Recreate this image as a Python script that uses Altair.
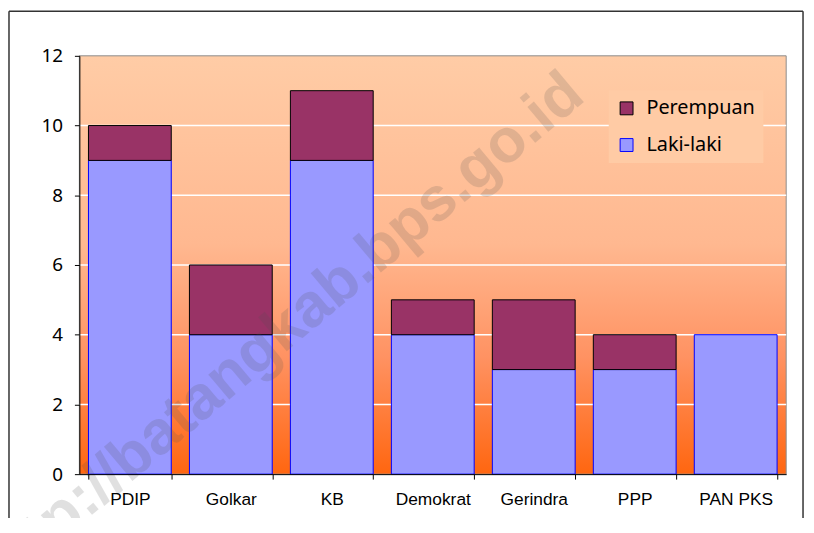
import altair as alt
import pandas as pd

parties = ["PDIP", "Golkar", "KB", "Demokrat", "Gerindra", "PPP", "PAN PKS"]
laki = [9, 4, 9, 4, 3, 3, 4]
perempuan = [1, 2, 2, 1, 2, 1, 0]
series = ["Perempuan", "Laki-laki"]
fill_colors = ["#993366", "#9999FF"]
stroke_colors = ["#000000", "#0000FF"]
y_ticks = [0, 2, 4, 6, 8, 10, 12]
grid_vals = [2, 4, 6, 8, 10]
watermark = ["http://batangkab.bps.go.id"]

W, H = 713, 422

rows = []
for p, l, f in zip(parties, laki, perempuan):
    rows.append({"party": p, "series": "Laki-laki", "value": l, "ord": 0})
    rows.append({"party": p, "series": "Perempuan", "value": f, "ord": 1})
df = pd.DataFrame(rows)

yscale = alt.Scale(domain=[0, 12], nice=False, zero=True)
yaxis = alt.Axis(
    values=y_ticks, title=None, labelFont="Noto Sans", labelFontSize=19,
    labelColor="black", tickSize=5, tickColor="black", domainColor="black",
    labelPadding=12, grid=False, zindex=1,
)

bg = alt.Chart(pd.DataFrame({"a": [0]})).mark_rect(
    fill=alt.LinearGradient(
        gradient="linear",
        stops=[
            alt.GradientStop(color="#FFCCA6", offset=0),
            alt.GradientStop(color="#FFB890", offset=0.45),
            alt.GradientStop(color="#FF9262", offset=0.72),
            alt.GradientStop(color="#FF6610", offset=1),
        ],
        x1=0, x2=0, y1=0, y2=1,
    ),
    stroke="#8C8C8C",
    strokeWidth=1,
).encode(x=alt.value(0), x2=alt.value(W), y=alt.value(0), y2=alt.value(H))

grid = alt.Chart(pd.DataFrame({"value": grid_vals})).mark_rule(
    color="white", strokeWidth=1.5
).encode(
    y=alt.Y("value:Q", scale=yscale, axis=yaxis),
    x=alt.value(0),
    x2=alt.value(W),
)

legend_kw = dict(
    title=None,
    orient="none",
    legendX=534,
    legendY=35,
    fillColor="#FFCBA5",
    padding=8,
    symbolType="square",
    symbolSize=169,
    symbolStrokeWidth=1,
    labelFont="Noto Sans",
    labelFontSize=20,
    labelColor="black",
    labelOffset=10,
    rowPadding=17,
    zindex=1,
)

bars = alt.Chart(df).transform_filter("datum.value > 0").mark_bar(
    strokeWidth=1, opacity=1
).encode(
    x=alt.X(
        "party:N",
        sort=parties,
        scale=alt.Scale(paddingInner=0.18, paddingOuter=0.09),
        axis=alt.Axis(
            title=None, labelAngle=0, labelFont="Liberation Sans", labelFontSize=17.5,
            labelColor="black", tickBand="extent", tickSize=5, tickColor="black",
            domainColor="black", labelPadding=12, grid=False, zindex=1,
        ),
    ),
    y=alt.Y("value:Q", stack="zero", scale=yscale, axis=yaxis),
    color=alt.Color("series:N", scale=alt.Scale(domain=series, range=fill_colors),
                    legend=alt.Legend(**legend_kw)),
    stroke=alt.Stroke("series:N", scale=alt.Scale(domain=series, range=stroke_colors),
                      legend=alt.Legend(**legend_kw)),
    order=alt.Order("ord:Q"),
)

wm = alt.Chart(pd.DataFrame({"t": watermark})).mark_text(
    align="right", baseline="alphabetic", angle=320, font="Liberation Sans",
    fontWeight="bold", fontSize=62, color="#505050", opacity=0.17,
).encode(text="t:N", x=alt.value(512), y=alt.value(44))

one = pd.DataFrame({"a": [0]})
border_left = alt.Chart(one).mark_rule(color="#333333", strokeWidth=1.5).encode(
    x=alt.value(-71), y=alt.value(-45), y2=alt.value(H + 60))
border_top = alt.Chart(one).mark_rule(color="#333333", strokeWidth=1.5).encode(
    x=alt.value(-71), x2=alt.value(730), y=alt.value(-45))
border_right = alt.Chart(one).mark_rule(color="#333333", strokeWidth=1.5).encode(
    x=alt.value(730), y=alt.value(-45), y2=alt.value(H + 60))

chart = alt.layer(bg, grid, bars, wm, border_left, border_top, border_right).properties(
    width=W,
    height=H,
    padding={"left": 72, "top": 46, "right": 20, "bottom": 42},
    autosize=alt.AutoSizeParams(type="none"),
    background="white",
).configure_view(stroke=None)

chart.save("out.html", embed_options={"renderer": "svg", "actions": False})
